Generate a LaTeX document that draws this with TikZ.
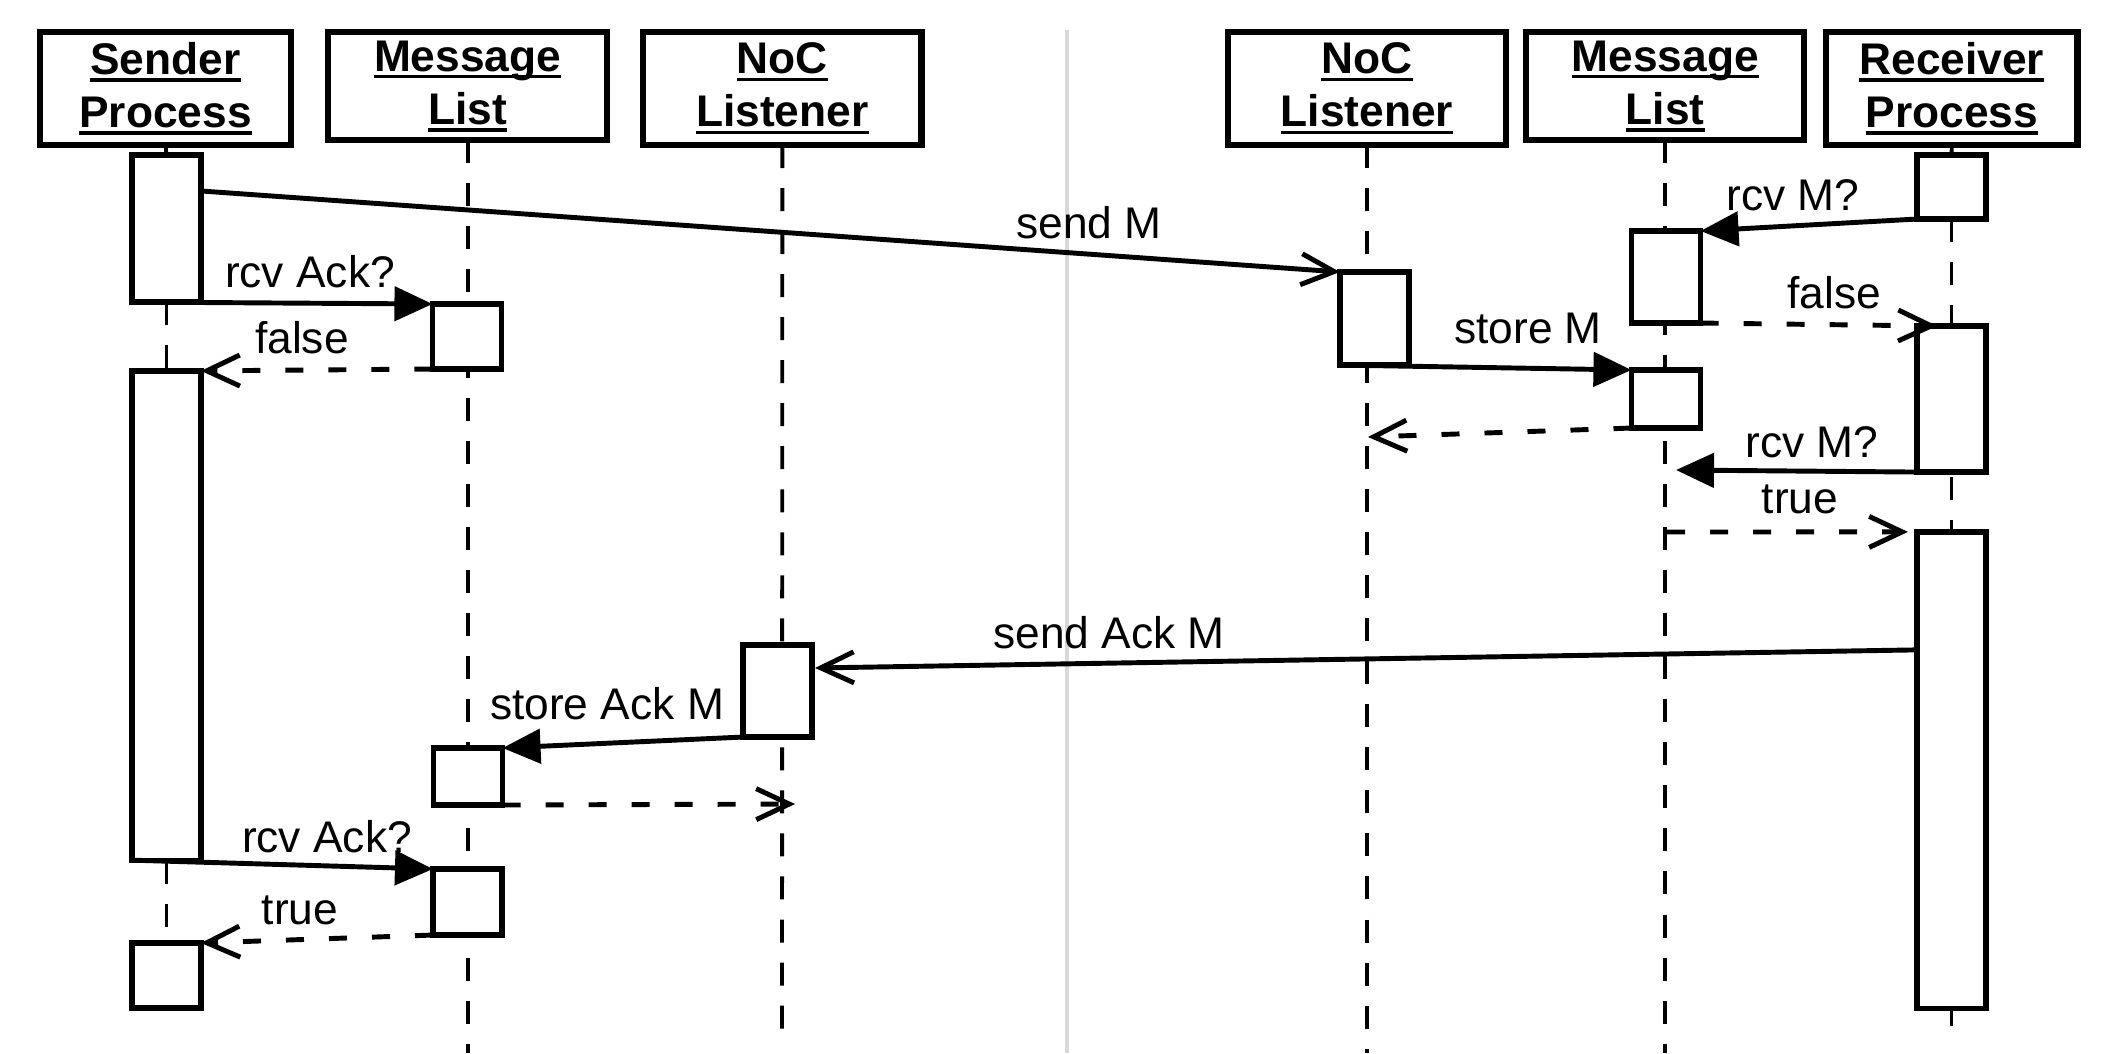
\documentclass[tikz,border=0pt]{standalone}
\usepackage{fontspec}
\setmainfont{Liberation Sans}
\usetikzlibrary{positioning,arrows.meta,calc,backgrounds}
\definecolor{seqgray}{HTML}{D9D9D9}
\newcommand\hul[1]{\setbox0\hbox{#1}\rlap{\rule[-2.1pt]{\wd0}{1pt}}\box0}

\begin{document}
\begin{tikzpicture}[
  x=0.01cm, y=-0.01cm,
  font=\fontsize{12.6}{15.1}\selectfont,
  head/.style={draw, line width=1.8pt, fill=white, align=center, inner sep=0pt, outer sep=0pt, font=\fontsize{12.6}{15.1}\selectfont\bfseries},
  act/.style={draw, line width=1.5pt, fill=white, minimum width=6.9mm, inner sep=0pt, outer sep=0pt},
  life/.style={line width=1.1pt, dash pattern=on 2.3mm off 2mm},
  tick/.style={line width=1.1pt},
  call/.style={line width=1.4pt, -{Triangle[length=3.8mm,width=3.4mm]}},
  async/.style={line width=1.4pt, -{Straight Barb[length=3.3mm,width=3.1mm]}},
  reply/.style={async, dash pattern=on 1.8mm off 2.5mm},
  lbl/.style={inner sep=0pt, anchor=base},
  sep/.style={draw=seqgray, line width=1.4pt}
]
\useasboundingbox (0,0) rectangle (2105,1053);

\node[head, minimum width=25.1mm, minimum height=11.3mm] (hs) at (165.5,88.5) {\hul{Sender}\\\hul{Process}};
\node[head, minimum width=27.9mm, minimum height=10.8mm, right=3.7mm of hs.north east, anchor=north west] (hml) {\hul{Message}\\\hul{List}};
\node[head, minimum width=27.8mm, minimum height=11.3mm, right=3.6mm of hml.north east, anchor=north west] (hnl) {\hul{NoC}\\\hul{Listener}};
\node[head, minimum width=27.8mm, minimum height=11.3mm] (hnr) at (1367,88.5) {\hul{NoC}\\\hul{Listener}};
\node[head, minimum width=27.8mm, minimum height=10.8mm, right=2mm of hnr.north east, anchor=north west] (hmr) {\hul{Message}\\\hul{List}};
\node[head, minimum width=25.1mm, minimum height=11.3mm, right=2.2mm of hmr.north east, anchor=north west] (hr) {\hul{Receiver}\\\hul{Process}};

\node[act, minimum height=14.7mm] (sa1) at (166.5,228.5) {};
\node[act, minimum height=48.9mm] (sa2) at (166.5,615.5) {};
\node[act, minimum height=6.5mm] (sa3) at (166.5,975.5) {};
\node[act, minimum height=6.5mm] (ma1) at (467,336.5) {};
\node[act, minimum height=5.7mm] (ma2) at (468,776.5) {};
\node[act, minimum height=6.6mm] (ma3) at (467.5,902) {};
\node[act, minimum height=9.2mm] (na1) at (777.5,691) {};
\node[act, minimum height=9.3mm] (nb1) at (1374.5,318.5) {};
\node[act, minimum height=9.2mm] (mb1) at (1666,277) {};
\node[act, minimum height=5.8mm] (mb2) at (1666,399) {};
\node[act, minimum height=6.4mm] (ra1) at (1951.5,187) {};
\node[act, minimum height=14.6mm] (ra2) at (1951.5,399) {};
\node[act, minimum height=47.6mm] (ra3) at (1951.5,770) {};

\coordinate (bot) at (0,1053);
\coordinate (septop) at (1067,30);
\coordinate (sepbot) at (1067,1053);
\coordinate (nlend) at (782,1030);
\coordinate (rend) at (1951.5,1026);
\coordinate (nr1) at (1368,437);
\coordinate (mr1) at (1676,470);
\coordinate (mr2) at (1667,532);
\coordinate (nl1) at (795,804);

\begin{scope}[on background layer]
\draw[sep] (septop) -- (sepbot);
\draw[tick] (hs.south) -- (sa1.north);
\draw[life] (sa1.south) -- (sa3.north);
\draw[life] (hml.south) -- (hml.south |- bot);
\draw[life] (hnl.south) -- (nlend);
\draw[life] (hnr.south) -- (hnr.south |- bot);
\draw[life] (hmr.south) -- (hmr.south |- bot);
\draw[tick] (hr.south) -- (ra1.north);
\draw[life] (ra1.south) -- (ra3.north);
\draw[tick] (ra3.south) -- (rend);
\end{scope}

\draw[async] ($(sa1.north east)+(0,36)$) -- (nb1.north west);
\draw[call] (sa1.south west) -- (ma1.north west);
\draw[reply] (ma1.south west) -- (sa2.north east);
\draw[call] (ra1.south west) -- (mb1.north east);
\draw[reply] (mb1.south east) -- ($(ra2.north west)+(20,0)$);
\draw[call] (nb1.south west) -- (mb2.north west);
\draw[reply] (mb2.south west) -- (nr1);
\draw[call] (ra2.south west) -- (mr1);
\draw[reply] (mr2) -- ($(ra3.north west)+(-9,0)$);
\draw[async] ($(ra3.north west)+(0,118)$) -- ($(na1.north east)+(3,23)$);
\draw[call] (na1.south west) -- (ma2.north east);
\draw[reply] (ma2.south east) -- (nl1);
\draw[call] (sa2.south west) -- (ma3.north west);
\draw[reply] (ma3.south west) -- (sa3.north east);

\node[lbl] (lsm) at (1089,238) {send M};
\node[lbl] (lra1) at (310,287) {rcv Ack?};
\node[lbl] (lf1) at (302,353) {false};
\node[lbl] (lrm1) at (1793,210) {rcv M?};
\node[lbl] (lf2) at (1834,308) {false};
\node[lbl] (lst) at (1528,343) {store M};
\node[lbl] (lrm2) at (1812,457) {rcv M?};
\node[lbl] (lt1) at (1800,513) {true};
\node[lbl] (lsa) at (1109,648) {send Ack M};
\node[lbl] (lsam) at (607,719) {store Ack M};
\node[lbl] (lra2) at (327,852) {rcv Ack?};
\node[lbl] (lt2) at (300,924) {true};
\end{tikzpicture}
\end{document}
